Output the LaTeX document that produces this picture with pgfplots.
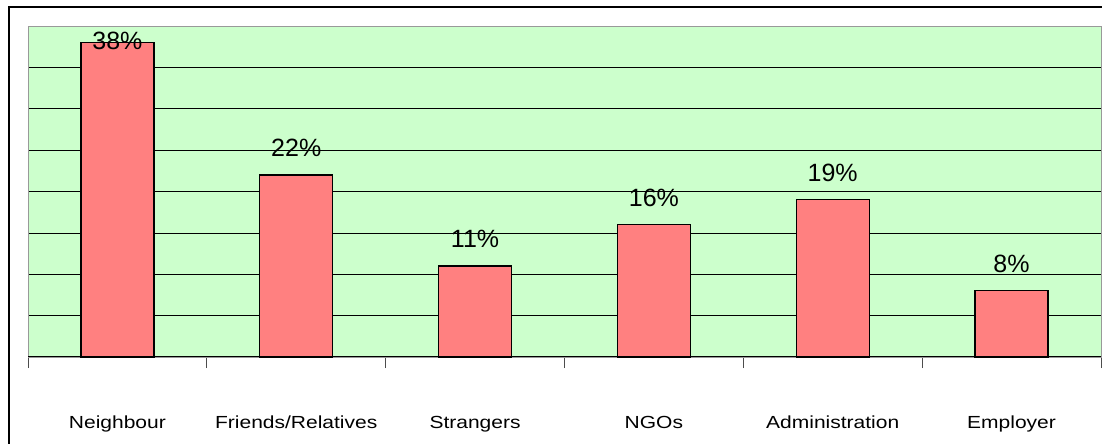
\documentclass[border=0pt]{standalone}
\usepackage{fontspec}
\setmainfont{Liberation Sans}
\newfontfamily\labfont[FakeStretch=1.2]{Liberation Sans}
\usepackage{pgfplots}
\pgfplotsset{compat=1.18}
\definecolor{plotbg}{HTML}{CCFFCC}
\definecolor{barfill}{HTML}{FF8080}
\begin{document}
\begin{tikzpicture}
\clip (0,0) rectangle (1102bp,444bp);
\draw[line width=2.2bp, black] (8.7bp,-20bp) -- (8.7bp,436.7bp) -- (1130bp,436.7bp);
\begin{axis}[
  at={(28bp,87bp)}, anchor=south west,
  width=1073bp, height=331bp, scale only axis,
  xmin=-0.5, xmax=5.5, ymin=0, ymax=40,
  clip=false,
  axis background/.style={fill=plotbg},
  axis line style={draw=gray!80},
  ytick={5,10,...,35}, yticklabels={}, ymajorgrids,
  major grid style={black, line width=0.7bp},
  ytick style={draw=none},
  xtick={0,...,5},
  xticklabels={Neighbour,Friends/Relatives,Strangers,NGOs,Administration,Employer},
  major x tick style={draw=none},
  minor xtick={-0.5,0.5,...,5.5},
  minor x tick style={draw=black!70, line width=0.8bp},
  minor tick length=11bp,
  tick align=outside,
  xtick pos=bottom,
  xticklabel style={font=\labfont\fontsize{17.5bp}{20bp}\selectfont, anchor=base, yshift=-67bp},
  every node near coord/.append style={font=\fontsize{25bp}{30bp}\selectfont, anchor=base, inner sep=0pt, yshift=18bp},
]
\addplot[ybar, bar width=73bp, bar shift=0pt, fill=barfill, draw=black, line width=1.3bp,
  point meta=explicit symbolic, nodes near coords]
coordinates {
  (0,38) [\raisebox{-25bp}{38\%}]
  (1,22) [22\%]
  (2,11) [11\%]
  (3,16) [16\%]
  (4,19) [19\%]
  (5,8) [8\%]
};
\draw[black, line width=1bp] (rel axis cs:0,0) -- (rel axis cs:1,0);
\end{axis}
\end{tikzpicture}
\end{document}
